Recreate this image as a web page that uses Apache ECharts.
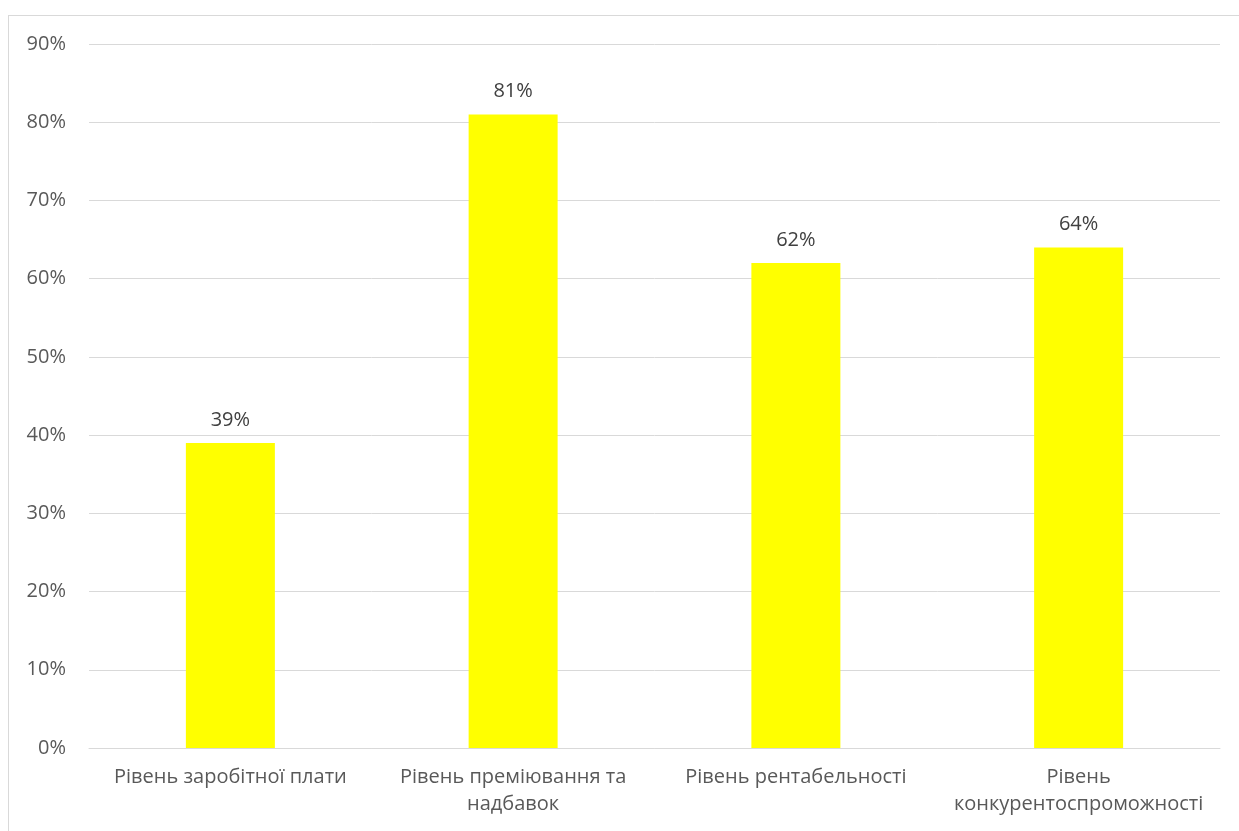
<!DOCTYPE html>
<html>
<head>
<meta charset="utf-8">
<script src="https://cdn.jsdelivr.net/npm/echarts@6/dist/echarts.min.js"></script>
<style>
html,body{margin:0;padding:0;background:#fff;}
#frame{position:absolute;left:8px;top:15px;width:1300px;height:900px;border:1px solid #d9d9d9;box-sizing:border-box;}
#chart{position:absolute;left:0;top:0;width:1239px;height:831px;}
</style>
</head>
<body>
<div id="frame"></div>
<div id="chart"></div>
<script>
const categories = ["Рівень заробітної плати", "Рівень преміювання та надбавок", "Рівень рентабельності", "Рівень конкурентоспроможності"];
const values = [39, 81, 62, 64];
const yTicks = { min: 0, max: 90, interval: 10 };

const font = '"Open Sans", "Noto Sans", sans-serif';
const fontSize = 20;
const measureCtx = document.createElement('canvas').getContext('2d');
measureCtx.font = fontSize + 'px ' + font;
function wrap(text, maxW) {
  const words = text.split(' ');
  const lines = [];
  let cur = '';
  for (const w of words) {
    const t = cur ? cur + ' ' + w : w;
    if (cur && measureCtx.measureText(t).width > maxW) { lines.push(cur); cur = w; }
    else cur = t;
  }
  if (cur) lines.push(cur);
  return lines.join('\n');
}

const chart = echarts.init(document.getElementById('chart'), null, {renderer: 'canvas'});
chart.setOption({
  animation: false,
  grid: { left: 89, right: 19, top: 44, bottom: 83, containLabel: false, outerBoundsMode: 'none' },
  xAxis: {
    type: 'category',
    data: categories,
    axisLine: { lineStyle: { color: '#d9d9d9', width: 1 } },
    axisTick: { show: false },
    axisLabel: {
      color: '#595959', fontFamily: font, fontSize: fontSize, margin: 16,
      lineHeight: 27, interval: 0, hideOverlap: false,
      formatter: v => wrap(v, 265)
    }
  },
  yAxis: {
    type: 'value',
    min: yTicks.min, max: yTicks.max, interval: yTicks.interval,
    axisLine: { show: false },
    axisTick: { show: false },
    splitLine: { lineStyle: { color: '#d9d9d9', width: 1 } },
    axisLabel: { color: '#595959', fontFamily: font, fontSize: fontSize, margin: 23, formatter: '{value}%' }
  },
  series: [{
    type: 'bar',
    data: values,
    barWidth: 89,
    itemStyle: { color: '#ffff00' },
    label: {
      show: true, position: 'top', distance: 13,
      color: '#404040', fontFamily: font, fontSize: fontSize,
      formatter: '{c}%'
    }
  }]
});
</script>
</body>
</html>
